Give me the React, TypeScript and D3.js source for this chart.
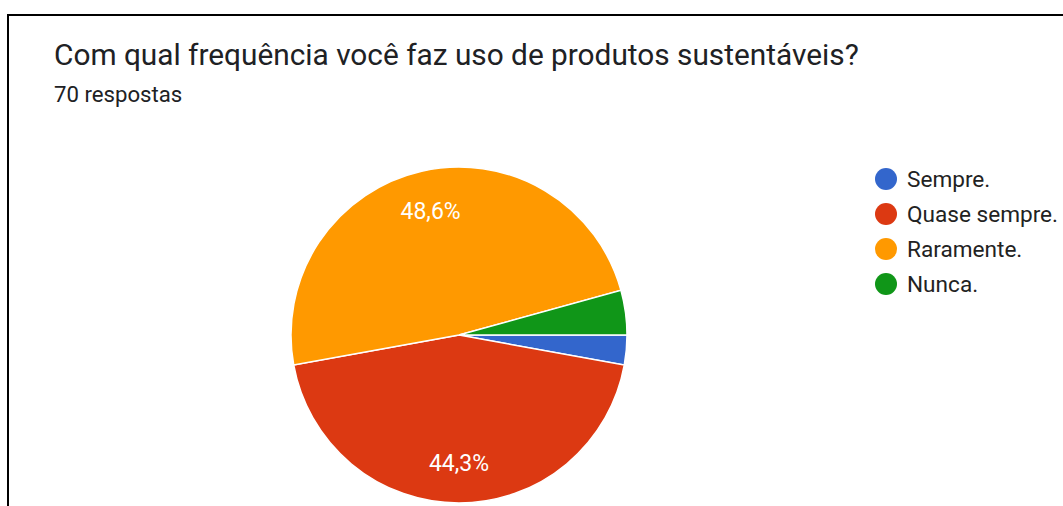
import React, { useRef, useEffect } from 'react';
import * as d3 from 'd3';

const title = 'Com qual frequência você faz uso de produtos sustentáveis?';
const subtitle = '70 respostas';
const categories = ['Sempre.', 'Quase sempre.', 'Raramente.', 'Nunca.'];
const counts = [2, 31, 34, 3];
const colors = ['#3366cc', '#dc3912', '#ff9900', '#109618'];

const App = () => {
  const svgRef = useRef<SVGSVGElement>(null);

  useEffect(() => {
    const width = 1063;
    const height = 506;
    const cx = 459;
    const cy = 335;
    const radius = 168;
    const font = 'Roboto, Arial, sans-serif';

    const svg = d3.select(svgRef.current)
      .attr('width', width)
      .attr('height', height);
    svg.selectAll('*').remove();

    svg.append('rect')
      .attr('width', width)
      .attr('height', height)
      .attr('fill', '#fff');

    // cadre noir (haut + gauche)
    svg.append('rect')
      .attr('x', 8)
      .attr('y', 15)
      .attr('width', width + 20)
      .attr('height', height + 20)
      .attr('fill', 'none')
      .attr('stroke', '#000')
      .attr('stroke-width', 2);

    svg.append('text')
      .attr('x', 54)
      .attr('y', 65)
      .attr('font-family', font)
      .attr('font-size', 29.8)
      .attr('fill', '#202124')
      .text(title);

    svg.append('text')
      .attr('x', 54)
      .attr('y', 102)
      .attr('font-family', font)
      .attr('font-size', 22.2)
      .attr('fill', '#202124')
      .text(subtitle);

    const total = d3.sum(counts);
    const locale = d3.formatLocale({ decimal: ',', thousands: '.', grouping: [3], currency: ['R$', ''] });
    const pct = locale.format('.1%');

    const pie = d3.pie<number>()
      .sort(null)
      .startAngle(Math.PI / 2)
      .endAngle(Math.PI / 2 + 2 * Math.PI);
    const arcs = pie(counts);

    const arc = d3.arc<d3.PieArcDatum<number>>()
      .innerRadius(0)
      .outerRadius(radius);
    const labelArc = d3.arc<d3.PieArcDatum<number>>()
      .innerRadius(radius * 0.76)
      .outerRadius(radius * 0.76);

    const g = svg.append('g').attr('transform', `translate(${cx},${cy})`);

    g.selectAll('path')
      .data(arcs)
      .enter()
      .append('path')
      .attr('d', arc)
      .attr('fill', (d, i) => colors[i])
      .attr('stroke', '#fff')
      .attr('stroke-width', 1.5);

    g.selectAll('text')
      .data(arcs.filter(d => d.data / total > 0.05))
      .enter()
      .append('text')
      .attr('transform', d => `translate(${labelArc.centroid(d)})`)
      .attr('text-anchor', 'middle')
      .attr('dy', '0.35em')
      .attr('font-family', font)
      .attr('font-size', 23)
      .attr('fill', '#fff')
      .text(d => pct(d.data / total));

    // légende
    const legend = svg.append('g').attr('transform', 'translate(886,179)');
    const items = legend.selectAll('g')
      .data(categories)
      .enter()
      .append('g')
      .attr('transform', (d, i) => `translate(0,${i * 35})`);

    items.append('circle')
      .attr('r', 11)
      .attr('fill', (d, i) => colors[i]);

    items.append('text')
      .attr('x', 21)
      .attr('y', 8)
      .attr('font-family', font)
      .attr('font-size', 22.6)
      .attr('fill', '#222')
      .text(d => d);
  }, []);

  return <svg ref={svgRef} style={{ position: 'absolute', left: 0, top: 0 }}></svg>;
};

export default App;
